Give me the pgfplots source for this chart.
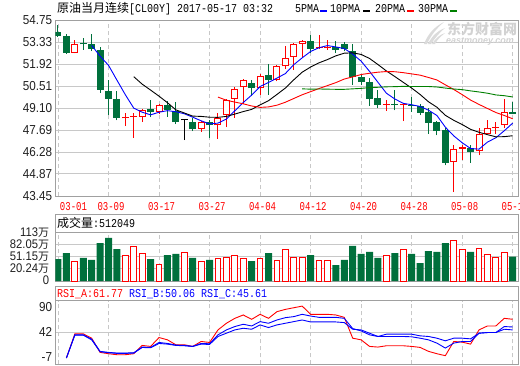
\documentclass[border=0pt]{standalone}
\usepackage{fontspec}
\usepackage{pgfplots}
\usepackage{pgfplotstable}
\pgfplotsset{compat=1.18}
\setmainfont{Liberation Sans}
\newfontfamily\cjk{Noto Sans CJK SC}
\newfontfamily\mono[FakeStretch=0.8333]{Liberation Mono}
\newfontfamily\xlab[FakeStretch=0.75]{Liberation Mono}
\newfontfamily\tickf[FakeStretch=0.9]{Liberation Sans}
\definecolor{cgreen}{HTML}{00703C}
\definecolor{magreen}{HTML}{008000}
\definecolor{bordc}{HTML}{A0A0A0}
\definecolor{gridc}{HTML}{C8C8C8}
\definecolor{labc}{HTML}{202020}

\pgfplotstableread{
i o h l c t
0 53.95 54.45 53.68 53.72 -1
1 53.72 53.83 52.58 52.62 -1
2 52.66 53.44 52.60 53.20 1
3 53.20 53.61 52.83 53.18 -1
4 53.20 53.87 52.75 52.88 -1
5 52.83 53.01 50.09 50.27 -1
6 50.22 50.89 48.65 49.68 -1
7 49.66 50.16 48.30 48.46 -1
8 48.44 48.80 47.94 48.48 1
9 48.52 48.80 47.18 48.56 1
10 48.54 49.06 48.22 48.97 1
11 49.06 49.64 48.52 48.84 -1
12 48.86 49.38 48.69 49.32 1
13 49.28 49.56 48.54 48.97 -1
14 48.91 49.51 48.07 48.20 -1
15 48.30 48.37 47.03 48.30 0
16 48.17 48.43 47.61 47.74 -1
17 47.76 48.26 47.57 48.20 1
18 48.20 48.30 47.18 47.98 -1
19 47.98 48.78 47.12 48.43 1
20 48.63 49.66 47.87 49.62 1
21 49.71 50.42 48.48 50.35 1
22 50.42 50.96 49.34 50.89 1
23 50.72 50.89 49.88 50.38 -1
24 50.38 51.28 49.94 51.15 1
25 51.22 51.93 49.94 50.91 -1
26 50.89 51.89 50.81 51.78 1
27 51.78 53.05 51.60 52.32 1
28 52.40 53.26 51.56 53.22 1
29 53.22 53.44 52.36 53.39 1
30 53.39 53.80 52.62 52.92 -1
31 52.96 53.80 52.88 53.01 1
32 52.94 53.44 52.83 52.99 1
33 53.03 53.39 52.62 52.81 -1
34 53.20 53.33 52.73 52.86 -1
35 52.77 53.18 50.59 51.11 -1
36 51.07 51.28 50.55 50.76 -1
37 50.76 51.00 49.23 49.70 -1
38 49.73 50.27 49.10 49.32 -1
39 49.30 49.64 48.91 49.34 1
40 49.34 50.25 48.95 49.30 -1
41 49.28 49.45 48.26 49.32 1
42 49.30 49.81 48.86 49.26 -1
43 49.21 49.34 48.65 48.78 -1
44 48.84 49.12 47.44 48.13 -1
45 48.22 48.26 47.35 47.61 -1
46 47.68 47.83 45.42 45.57 -1
47 45.63 46.75 43.70 46.47 1
48 46.49 46.75 45.78 46.57 1
49 46.53 46.71 45.57 46.28 -1
50 46.32 47.83 46.06 47.40 1
51 47.46 48.30 47.40 47.83 1
52 47.81 48.22 47.44 47.85 1
53 47.98 49.71 47.83 48.86 1
54 48.86 49.49 48.69 48.73 -1
}\candles

\pgfplotstableread{
i m5 m10 m20 m30
4 53.12 nan nan nan
5 52.43 nan nan nan
6 51.84 nan nan nan
7 50.89 nan nan nan
8 49.95 nan nan nan
9 49.09 51.11 nan nan
10 48.83 50.63 nan nan
11 48.66 50.25 nan nan
12 48.83 49.86 nan nan
13 48.93 49.44 nan nan
14 48.86 48.98 nan nan
15 48.73 48.78 nan nan
16 48.51 48.58 nan nan
17 48.28 48.56 nan nan
18 48.08 48.51 nan nan
19 48.13 48.50 49.80 nan
20 48.39 48.56 49.60 nan
21 48.92 48.71 49.48 nan
22 49.45 48.87 49.37 nan
23 49.93 49.01 49.23 nan
24 50.48 49.30 49.14 nan
25 50.74 49.57 49.17 nan
26 51.02 49.97 49.28 nan
27 51.31 50.38 49.47 nan
28 51.88 50.91 49.71 nan
29 52.32 51.40 49.95 50.33
30 52.73 51.73 50.15 50.31
31 52.97 52.00 50.35 50.32
32 53.11 52.21 50.54 50.31
33 53.02 52.45 50.73 50.30
34 52.92 52.62 50.96 50.30
35 52.56 52.64 51.10 50.33
36 52.11 52.54 51.25 50.36
37 51.45 52.28 51.33 50.41
38 50.75 51.89 51.40 50.43
39 50.05 51.48 51.44 50.46
40 49.68 51.12 51.43 50.47
41 49.40 50.75 51.37 50.49
42 49.31 50.38 51.29 50.48
43 49.20 49.97 51.21 50.48
44 48.96 49.50 51.06 50.48
45 48.62 49.15 50.90 50.45
46 47.87 48.63 50.59 50.38
47 47.31 48.31 50.29 50.32
48 46.87 48.04 49.96 50.28
49 46.50 47.73 49.61 50.20
50 46.46 47.54 49.33 50.13
51 46.91 47.39 49.07 50.05
52 47.19 47.25 48.81 49.94
53 47.64 47.26 48.62 49.89
54 48.13 47.32 48.41 49.81
}\ma

\pgfplotstableread{
i v t
0 45.4 -1
1 60.7 -1
2 39.5 1
3 48.0 -1
4 42.9 -1
5 86.2 -1
6 99.0 -1
7 70.9 -1
8 54.8 1
9 77.7 1
10 59.9 1
11 45.4 -1
12 31.8 1
13 55.6 -1
14 58.2 -1
15 62.4 0
16 48.0 -1
17 39.5 1
18 42.9 -1
19 47.1 1
20 49.7 1
21 54.8 1
22 47.1 1
23 40.3 -1
24 47.1 1
25 60.7 -1
26 42.0 1
27 70.1 1
28 49.7 1
29 49.7 1
30 55.6 -1
31 42.0 1
32 42.0 1
33 30.1 -1
34 42.9 -1
35 78.6 -1
36 58.2 -1
37 63.3 -1
38 48.0 -1
39 54.8 1
40 60.7 -1
41 70.1 1
42 58.2 -1
43 35.2 -1
44 65.8 -1
45 63.3 -1
46 86.2 -1
47 93.0 1
48 70.1 1
49 63.3 -1
50 72.6 1
51 57.3 1
52 49.7 1
53 62.4 1
54 51.2 -1
}\vol

\pgfplotstableread{
i a b c
1 2.9 2.9 2.9
2 39.6 38.1 37.6
3 39.6 38.1 37.6
4 33.0 31.5 30.5
5 11.4 12.9 12.4
6 9.4 11.4 10.9
7 7.9 10.4 9.9
8 7.9 10.4 9.9
9 9.4 10.9 10.4
10 22.0 19.5 18.9
11 20.5 19.0 18.4
12 34.0 26.5 25.0
13 30.5 25.0 24.0
14 23.0 22.5 22.0
15 23.0 22.0 21.5
16 20.5 20.5 20.5
17 28.0 25.0 24.0
18 26.5 24.5 23.5
19 45.6 38.1 35.6
20 55.7 45.6 40.6
21 63.2 50.7 45.6
22 68.3 54.2 48.1
23 61.7 51.6 46.6
24 69.3 58.2 53.2
25 63.2 55.7 49.2
26 73.3 60.7 53.2
27 76.8 64.2 55.7
28 79.3 65.8 58.2
29 81.8 69.3 60.7
30 69.3 66.7 57.7
31 69.3 64.7 57.7
32 69.3 64.7 57.7
33 68.3 64.7 57.7
34 64.7 63.2 56.7
35 33.0 47.6 46.6
36 30.5 44.1 45.6
37 20.5 38.1 40.6
38 19.5 35.6 35.6
39 21.5 39.1 35.6
40 21.5 39.1 35.6
41 21.5 39.1 35.6
42 20.5 39.1 35.1
43 19.0 36.6 33.0
44 13.0 35.6 30.5
45 9.4 33.0 25.5
46 6.4 29.0 18.0
47 28.0 33.0 25.5
48 27.0 33.0 28.0
49 24.0 32.0 28.0
50 45.6 40.6 40.6
51 51.6 41.6 41.6
52 51.6 41.6 41.6
53 63.2 50.7 46.6
54 61.77 50.06 45.61
}\rsi

\pgfplotsset{
  panel/.style={scale only axis, anchor=north west, width=462.7pt,
    xmin=-0.32, xmax=54.63,
    axis line style={draw=bordc, line width=0.8pt},
    major tick length=0pt, minor tick num=0,
    xtick={0,6,...,54},
    xmajorgrids, ymajorgrids,
    major x grid style={draw=gridc, dash pattern=on 4pt off 3pt, line width=0.8pt},
    major y grid style={draw=gridc, line width=0.8pt},
    yticklabel style={font=\tickf\fontsize{13}{13}\selectfont, text=labc, anchor=east, inner sep=0pt, xshift=-3pt},
  },
}

\begin{document}
\begin{tikzpicture}[x=1pt,y=1pt]
\useasboundingbox (0,0) rectangle (520,-365);
\fill[white] (0,0) rectangle (520,-365);

% ---------------- main panel ----------------
\begin{axis}[panel, at={(55.3pt,-20pt)}, height=176pt,
  ymin=43.45, ymax=54.75,
  ytick={43.45,44.87,46.28,47.69,49.10,50.51,51.92,53.33,54.75},
  yticklabels={43.45,44.87,46.28,47.69,49.10,50.51,51.92,53.33,54.75},
  xticklabels={\hspace*{26pt}03-01,03-09,03-17,03-27,04-04,04-12,04-20,04-28,05-08,05-16},
  xticklabel style={font=\xlab\fontsize{12}{12}\selectfont, text=red, anchor=north, inner sep=0pt, yshift=-6pt, xshift=2.5pt},
]
% wicks
\addplot[draw=none, mark=none, forget plot, restrict expr to domain={\thisrow{t}}{0.5:1.5},
  error bars/.cd, y dir=plus, y explicit, error mark=none, error bar style={draw=red, line width=1pt}]
  table[x=i, y=l, y error expr=\thisrow{h}-\thisrow{l}] {\candles};
\addplot[draw=none, mark=none, forget plot, restrict expr to domain={\thisrow{t}}{-1.5:-0.5},
  error bars/.cd, y dir=plus, y explicit, error mark=none, error bar style={draw=cgreen, line width=1pt}]
  table[x=i, y=l, y error expr=\thisrow{h}-\thisrow{l}] {\candles};
\addplot[draw=none, mark=none, forget plot, restrict expr to domain={\thisrow{t}}{-0.5:0.5},
  error bars/.cd, y dir=plus, y explicit, error mark=none, error bar style={draw=black, line width=1pt}]
  table[x=i, y=l, y error expr=\thisrow{h}-\thisrow{l}] {\candles};
% bodies
\addplot[draw=none, mark=none, forget plot, restrict expr to domain={\thisrow{t}}{-1.5:-0.5},
  error bars/.cd, y dir=plus, y explicit, error mark=none, error bar style={draw=cgreen, line width=7pt}]
  table[x=i, y=c, y error expr={max(\thisrow{o}-\thisrow{c},0.064)}] {\candles};
\addplot[draw=none, mark=none, forget plot, restrict expr to domain={\thisrow{t}}{0.5:1.5},
  error bars/.cd, y dir=plus, y explicit, error mark=none, error bar style={draw=red, line width=7pt}]
  table[x=i, y=o, y error expr={max(\thisrow{c}-\thisrow{o},0.064)}] {\candles};
\addplot[draw=none, mark=none, forget plot, restrict expr to domain={\thisrow{t}}{0.5:1.5},
  error bars/.cd, y dir=plus, y explicit, error mark=none, error bar style={draw=white, line width=5pt}]
  table[x=i, y expr=\thisrow{o}+0.064, y error expr={max(\thisrow{c}-\thisrow{o}-0.128,0)}] {\candles};
\addplot[draw=none, mark=none, forget plot, restrict expr to domain={\thisrow{t}}{-0.5:0.5},
  error bars/.cd, y dir=plus, y explicit, error mark=none, error bar style={draw=black, line width=7pt}]
  table[x=i, y=o, y error expr=0.064] {\candles};
% moving averages
\addplot[blue, line width=0.9pt, mark=none] table[x=i, y=m5] {\ma};
\addplot[black, line width=0.9pt, mark=none] table[x=i, y=m10] {\ma};
\addplot[red, line width=0.9pt, mark=none] table[x=i, y=m20] {\ma};
\addplot[magreen, line width=0.9pt, mark=none] table[x=i, y=m30] {\ma};
\end{axis}

% ---------------- volume panel ----------------
\draw[bordc, line width=0.8pt] (55.3,-214.3) rectangle (518,-232.5);
\begin{axis}[panel, at={(55.3pt,-232.5pt)}, height=48.5pt,
  ymin=0, ymax=123.67,
  ytick={0,30.91,61.82,92.72,123.67},
  yticklabels={0,20.24{\cjk\fontsize{11}{11}\selectfont 万},51.15{\cjk\fontsize{11}{11}\selectfont 万},82.05{\cjk\fontsize{11}{11}\selectfont 万},113{\cjk\fontsize{11}{11}\selectfont 万}},
  yticklabel style={font=\tickf\fontsize{12.5}{12.5}\selectfont, text=labc, anchor=east, inner sep=0pt, xshift=-3pt, text height=7pt, text depth=0pt},
  xticklabels={},
]
\addplot[ybar, bar width=7pt, bar shift=0pt, fill=cgreen, draw=none, restrict expr to domain={\thisrow{t}}{-1.5:-0.5}]
  table[x=i, y expr=\thisrow{v}+10.67] {\vol};
\addplot[ybar, bar width=5.8pt, bar shift=0pt, fill=white, draw=red, line width=1pt, restrict expr to domain={\thisrow{t}}{-0.5:1.5}]
  table[x=i, y expr=\thisrow{v}+10.67] {\vol};
\end{axis}

% ---------------- RSI panel ----------------
\draw[bordc, line width=0.8pt] (55.3,-286.7) rectangle (518,-300.7);
\begin{axis}[panel, at={(55.3pt,-300.7pt)}, height=63.8pt,
  ymin=-7, ymax=90,
  ytick={-7,42,90},
  yticklabels={\smash{\raisebox{3pt}{-7}},42,\smash{\raisebox{-11pt}{90}}},
  xticklabels={},
]
\addplot[red, line width=0.9pt, mark=none] table[x=i, y=a] {\rsi};
\addplot[blue, line width=0.9pt, mark=none] table[x=i, y=b] {\rsi};
\addplot[blue, line width=0.9pt, mark=none] table[x=i, y=c] {\rsi};
\end{axis}

% ---------------- titles ----------------
\node[anchor=west, inner sep=0pt] at (57,-8.5) {\fontsize{12}{12}\selectfont\cjk 原油当月连续\mono[CL00Y] 2017-05-17 03:32};
\node[anchor=west, inner sep=0pt] at (295,-9) {\fontsize{12}{12}\selectfont\mono 5PMA};
\draw[blue, line width=2pt] (320,-10.5) -- (327,-10.5);
\node[anchor=west, inner sep=0pt] at (330,-9) {\fontsize{12}{12}\selectfont\mono 10PMA};
\draw[black, line width=2pt] (363,-10.5) -- (370,-10.5);
\node[anchor=west, inner sep=0pt] at (375,-9) {\fontsize{12}{12}\selectfont\mono 20PMA};
\draw[red, line width=2pt] (407,-10.5) -- (414,-10.5);
\node[anchor=west, inner sep=0pt] at (418,-9) {\fontsize{12}{12}\selectfont\mono 30PMA};
\draw[magreen, line width=2pt] (450,-10.5) -- (457,-10.5);
% watermark (logo feathers + text)
\begin{scope}[fill=gray!28, draw=none]
  \fill (424,-44) .. controls (428,-34) and (434,-27) .. (444,-22) .. controls (437,-28) and (431,-35) .. (427,-44) -- cycle;
  \fill (428,-44) .. controls (432,-36) and (437,-31) .. (445,-28) .. controls (439,-33) and (435,-38) .. (431,-44) -- cycle;
  \fill (432,-44) .. controls (435,-39) and (439,-35) .. (445,-33) .. controls (440,-37) and (437,-40) .. (435,-44) -- cycle;
\end{scope}
\node[anchor=west, inner sep=0pt, text=gray!35] at (447,-29) {\fontsize{14}{14}\selectfont\cjk\bfseries 东方财富网};
\node[anchor=west, inner sep=0pt, text=gray!35] at (446,-41) {\fontsize{9}{9}\selectfont\bfseries\itshape eastmoney.com};
% panel titles
\node[anchor=west, inner sep=0pt] at (57,-223) {\fontsize{12}{12}\selectfont\cjk 成交量\mono:512049};
\node[anchor=west, inner sep=0pt] at (57,-294) {\fontsize{12}{12}\selectfont\mono\textcolor{red}{RSI\_A:61.77} \textcolor{blue}{RSI\_B:50.06} \textcolor{blue}{RSI\_C:45.61}};
\end{tikzpicture}
\end{document}
